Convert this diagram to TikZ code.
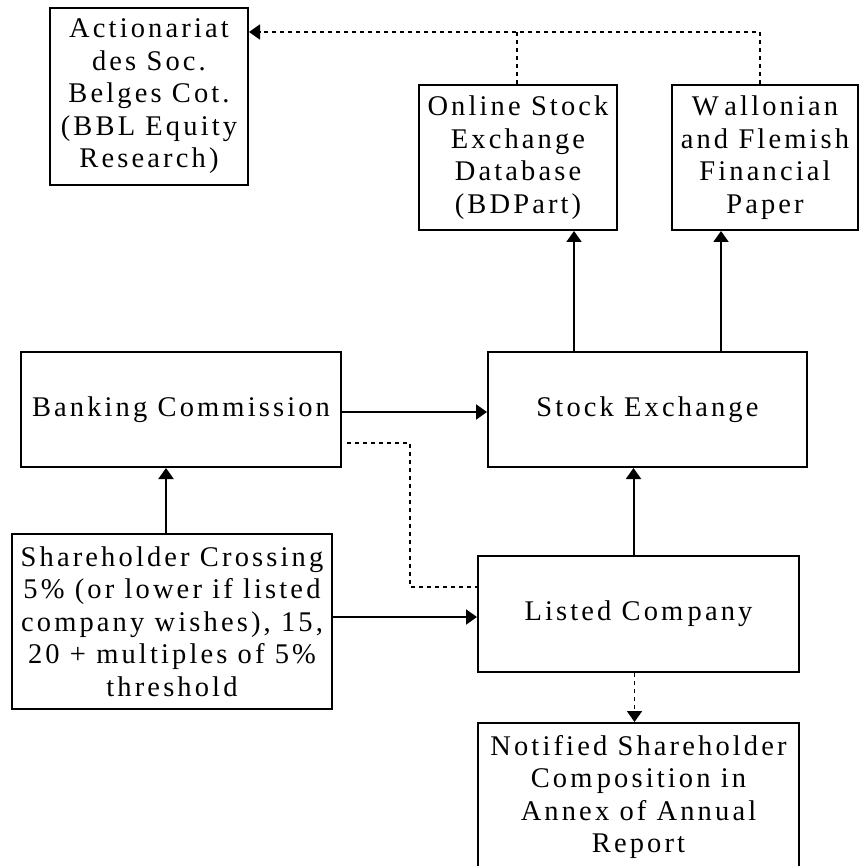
\documentclass[tikz,border=0pt]{standalone}
\usepackage{fontspec}
\setmainfont{Liberation Serif}[LetterSpace=11]
\usetikzlibrary{arrows.meta,calc}
\tikzset{
  box/.style={draw, line width=2pt, inner sep=0pt, align=center,
    font=\fontsize{28.5}{32.5}\selectfont},
  tip/.style={-{Triangle[length=11pt,width=15pt]}},
  arr/.style={line width=2pt, tip},
  dotarr/.style={line width=1.8pt, dash pattern=on 4pt off 4pt, tip},
  dotline/.style={line width=1.8pt, dash pattern=on 4pt off 4pt}
}
\begin{document}
\begin{tikzpicture}[x=1pt,y=-1pt]
\useasboundingbox (0,0) rectangle (860,866);
\clip (0,0) rectangle (860,866);
\node[box, minimum width=198pt, minimum height=177pt] (act) at (149,96.5)
  {Actionariat\\des Soc.\\Belges Cot.\\(BBL Equity\\Research)};
\node[box, minimum width=198pt, minimum height=145pt] (onl) at (518,157.5)
  {Online Stock\\Exchange\\Database\\(BDPart)};
\node[box, minimum width=186pt, minimum height=145pt] (wal) at (765,157.5)
  {W\kern0.2em allonian\\and Flemish\\Financial\\Paper};
\node[box, minimum width=320pt, minimum height=115pt] (bc) at (181,409.5)
  {Banking Commission};
\node[box, minimum width=319pt, minimum height=115pt] (se) at (647.5,409.5)
  {Stock Exchange};
\node[box, minimum width=320pt, minimum height=175pt] (sh) at (172,621.5)
  {Shareholder Crossing\\5\% (or lower if listed\\company wishes), 15,\\20 + multiples of 5\%\\threshold};
\node[box, minimum width=321pt, minimum height=116pt] (lc) at (638.5,614)
  {Listed Com\kern0.15em pany};
\node[box, minimum width=321pt, minimum height=148pt] (nt) at (638.5,797)
  {Notified Shareholder\\Com\kern0.15em position in\\Annex of Annual\\Report};
% solid arrows
\draw[arr] ([xshift=87pt]se.north west) -- ([xshift=87pt]se.north west |- onl.south);
\draw[arr] ([xshift=234pt]se.north west) -- ([xshift=234pt]se.north west |- wal.south);
\draw[arr] (bc.east |- 0,412) -- (se.west |- 0,412);
\draw[arr] ([xshift=155pt]sh.north west) -- ([xshift=155pt]sh.north west |- bc.south);
\draw[arr] (sh.east |- 0,617) -- (lc.west |- 0,617);
\draw[arr] ([xshift=-5pt]lc.north) -- ([xshift=-5pt]lc.north |- se.south);
% dotted connectors
\coordinate (top) at (517,32);
\draw[dotarr] ([xshift=89pt]wal.north west) |- (act.east |- top);
\draw[dotline] ([xshift=-1pt]onl.north) -- (top);
\draw[dotline] ([xshift=5pt]bc.east |- 0,443) -| (410,587) -- (lc.west |- 0,587);
\draw[dotarr] ([xshift=-4pt]lc.south) -- ([xshift=-4pt]lc.south |- nt.north);
\end{tikzpicture}
\end{document}
